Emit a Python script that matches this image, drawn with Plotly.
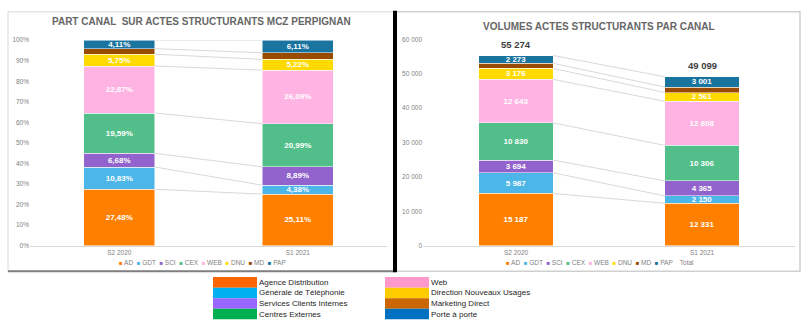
import plotly.graph_objects as go

W, H = 803, 329

categories = ["S2 2020", "S1 2021"]
series_codes = ["AD", "GDT", "SCI", "CEX", "WEB", "DNU", "MD", "PAP"]
series_names = ["Agence Distribution", "Générale de Téléphonie", "Services Clients Internes",
                "Centres Externes", "Web", "Direction Nouveaux Usages", "Marketing Direct", "Porte à porte"]
bar_colors = ["#FF7F00", "#4DB6E8", "#9263CC", "#52BF8A", "#FFB3E3", "#FFDA00", "#994C00", "#1A74A0"]
key_colors = ["#FF6600", "#00B0F0", "#9966FF", "#00B050", "#FF99CC", "#FFCC00", "#CC6600", "#0070C0"]

# Share (%) per channel
pct_ad = [27.48, 25.11]
pct_gdt = [10.83, 4.38]
pct_sci = [6.68, 8.89]
pct_cex = [19.59, 20.99]
pct_web = [22.87, 26.09]
pct_dnu = [5.75, 5.22]
pct_md = [2.69, 3.21]
pct_pap = [4.11, 6.11]

# Volumes per channel
vol_ad = [15187, 12331]
vol_gdt = [5987, 2150]
vol_sci = [3694, 4365]
vol_cex = [10830, 10306]
vol_web = [12643, 12808]
vol_dnu = [3176, 2561]
vol_md = [1484, 1577]
vol_pap = [2273, 3001]
vol_total = [55274, 49099]

pct_series = [pct_ad, pct_gdt, pct_sci, pct_cex, pct_web, pct_dnu, pct_md, pct_pap]
vol_series = [vol_ad, vol_gdt, vol_sci, vol_cex, vol_web, vol_dnu, vol_md, vol_pap]
show_label = [True, True, True, True, True, True, False, True]

FONT = "Liberation Sans, Arial, sans-serif"
GRAY = "#7F7F7F"
xpos = [0, 1]


def px_x(p):
    return p / W


def px_y(p):
    return 1 - p / H


def fmt_pct(v):
    return f"{v:.2f}%".replace(".", ",")


def fmt_vol(v):
    return f"{v:,}".replace(",", " ")


fig = go.Figure()

# Left chart: shares
for code, vals, col, show in zip(series_codes, pct_series, bar_colors, show_label):
    fig.add_trace(go.Bar(
        x=xpos, y=[v / 100 for v in vals], name=code, marker=dict(color=col, line=dict(color="white", width=0.5)),
        width=0.4, text=[fmt_pct(v) if show else "" for v in vals], textposition="inside",
        insidetextanchor="middle", textangle=0, textfont=dict(color="white", size=8, family=FONT, weight="bold"),
        xaxis="x", yaxis="y", showlegend=False, hoverinfo="skip"))

# Right chart: volumes
for code, vals, col, show in zip(series_codes, vol_series, bar_colors, show_label):
    fig.add_trace(go.Bar(
        x=xpos, y=vals, name=code, marker=dict(color=col, line=dict(color="white", width=0.5)),
        width=0.4, text=[fmt_vol(v) if show else "" for v in vals], textposition="inside",
        insidetextanchor="middle", textangle=0, textfont=dict(color="white", size=8, family=FONT, weight="bold"),
        xaxis="x2", yaxis="y2", showlegend=False, hoverinfo="skip"))

# Series connector lines
for series_list, xa, ya, scale in [(pct_series, "x", "y", 100.0), (vol_series, "x2", "y2", 1.0)]:
    cum = [0.0, 0.0]
    for vals in series_list:
        cum = [cum[0] + vals[0] / scale, cum[1] + vals[1] / scale]
        fig.add_trace(go.Scatter(x=[0.2, 0.8], y=list(cum), mode="lines",
                                 line=dict(color="#D9D9D9", width=1), xaxis=xa, yaxis=ya,
                                 showlegend=False, hoverinfo="skip"))

axis_common = dict(showgrid=False, zeroline=False, tickfont=dict(size=6.5, color=GRAY, family=FONT),
                   fixedrange=True)
fig.update_layout(
    width=W, height=H, margin=dict(l=0, r=0, t=0, b=0),
    paper_bgcolor="white", plot_bgcolor="white", barmode="stack", separators=", ",
    font=dict(family=FONT),
    xaxis=dict(domain=[px_x(30), px_x(387)], range=[-0.5, 1.5], tickvals=xpos, ticktext=categories,
               showline=True, linecolor="#D9D9D9", linewidth=1, ticks="", anchor="y", **axis_common),
    yaxis=dict(domain=[px_y(247), px_y(37)], range=[0, 1], tickformat=".0%", dtick=0.1,
               showline=False, anchor="x", ticks="", **axis_common),
    xaxis2=dict(domain=[px_x(423), px_x(795)], range=[-0.5, 1.5], tickvals=xpos, ticktext=categories,
                showline=True, linecolor="#D9D9D9", linewidth=1, ticks="", anchor="y2", **axis_common),
    yaxis2=dict(domain=[px_y(247), px_y(36)], range=[0, 60000], tickformat=",d", dtick=10000,
                showline=False, anchor="x2", ticks="", **axis_common),
)

annotations = []
# Totals above the volume bars
for xp, tot in zip(xpos, vol_total):
    annotations.append(dict(x=xp, y=tot, xref="x2", yref="y2", showarrow=False, xanchor="center",
                            yanchor="bottom", yshift=4, text=fmt_vol(tot),
                            font=dict(color="#404040", size=9.5, family=FONT, weight="bold")))

annotations.append(dict(x=px_x(201), y=px_y(18), xref="paper", yref="paper", showarrow=False,
                        xanchor="center", yanchor="middle",
                        text="PART CANAL  SUR ACTES STRUCTURANTS MCZ PERPIGNAN",
                        font=dict(size=10, color="#666666", family=FONT, weight="bold")))
annotations.append(dict(x=px_x(599), y=px_y(23), xref="paper", yref="paper", showarrow=False,
                        xanchor="center", yanchor="middle",
                        text="VOLUMES ACTES STRUCTURANTS PAR CANAL",
                        font=dict(size=10, color="#666666", family=FONT, weight="bold")))


def legend_text(extra=""):
    parts = []
    for code, col in zip(series_codes, bar_colors):
        parts.append(f"<span style='color:{col};font-size:6px'>■</span> {code}")
    txt = "  ".join(parts)
    if extra:
        txt += "    " + extra
    return txt


annotations.append(dict(x=px_x(202), y=px_y(264), xref="paper", yref="paper", showarrow=False,
                        xanchor="center", yanchor="middle",
                        text=legend_text(), font=dict(size=6.5, color=GRAY, family=FONT)))
annotations.append(dict(x=px_x(600), y=px_y(264), xref="paper", yref="paper", showarrow=False,
                        xanchor="center", yanchor="middle",
                        text=legend_text("Total"), font=dict(size=6.5, color=GRAY, family=FONT)))

shapes = []
# Panel frames
shapes.append(dict(type="rect", xref="paper", yref="paper", x0=px_x(8), x1=px_x(395), y0=px_y(273), y1=px_y(8),
                   line=dict(color="#D9D9D9", width=1)))
shapes.append(dict(type="line", xref="paper", yref="paper", x0=px_x(8), x1=px_x(395), y0=px_y(273), y1=px_y(273),
                   line=dict(color="#7F7F7F", width=2)))
shapes.append(dict(type="rect", xref="paper", yref="paper", x0=px_x(396), x1=px_x(800), y0=px_y(273), y1=px_y(8),
                   line=dict(color="#D0D0D0", width=1.5)))
shapes.append(dict(type="line", xref="paper", yref="paper", x0=px_x(395), x1=px_x(395), y0=px_y(274), y1=px_y(7),
                   line=dict(color="#000000", width=4)))

# Bottom key
row_h = 10.8
for i, (name, col) in enumerate(zip(series_names, key_colors)):
    c = i // 4
    r = i % 4
    x0 = 213 if c == 0 else 385
    y0 = 279 + r * row_h
    shapes.append(dict(type="rect", xref="paper", yref="paper", x0=px_x(x0), x1=px_x(x0 + 44),
                       y0=px_y(y0 + row_h), y1=px_y(y0), fillcolor=col, line=dict(width=0)))
    annotations.append(dict(x=px_x(x0 + 44), y=px_y(y0 + row_h / 2), xref="paper", yref="paper",
                            xanchor="left", yanchor="middle", showarrow=False, text=name,
                            font=dict(size=8, color="#262626", family=FONT)))

fig.update_layout(annotations=annotations, shapes=shapes,
                  uniformtext=dict(minsize=8, mode="show"))

fig.write_html("out.html")
